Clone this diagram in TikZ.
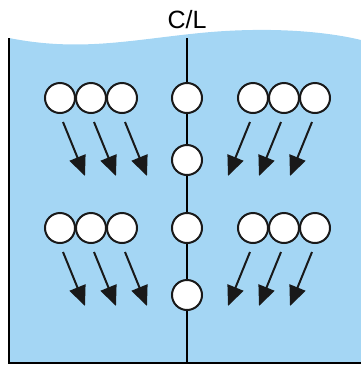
\documentclass[tikz,border=0pt]{standalone}
\usepackage{fontspec}
\setmainfont{Liberation Sans}
\usetikzlibrary{arrows.meta}
\definecolor{water}{RGB}{164,214,244}
\tikzset{
  ball/.style={circle,draw=black!90,line width=2pt,fill=white,minimum size=30pt,inner sep=0pt},
  flow/.style={line width=2pt,black!90,-{Triangle[length=20pt,width=17pt]}}
}
\begin{document}
\begin{tikzpicture}[x=1pt,y=-1pt]
\useasboundingbox (0,0) rectangle (361,365);
% water
\fill[water] (9,38) .. controls (80,52) and (130,40) .. (200,33)
  .. controls (260,27) and (320,30) .. (361,40) -- (361,363) -- (9,363) -- cycle;
\draw[line width=1.5pt] (9,38) -- (9,363) -- (361,363);
\node at (187,20){\fontsize{25pt}{25pt}\selectfont C/L};
\coordinate (cltop) at (187,38);
\coordinate (clbot) at (187,363);
\draw[line width=1.5pt] (cltop) -- (clbot);
% centre line balls
\node[ball] (c1) at (187,98){};
\node[ball] (c2) at (187,160){};
\node[ball] (c3) at (187,228){};
\node[ball] (c4) at (187,295){};
% rows
\foreach \r/\y in {a/98,b/228}{
  \foreach \i/\x in {1/60,2/91,3/122}{
    \node[ball] (l\r\i) at (\x,\y){};
    \coordinate (ls\r\i) at ([shift={(3,24)}]l\r\i.center);
    \coordinate (le\r\i) at ([shift={(25,78)}]l\r\i.center);
    \draw[flow] (ls\r\i) -- (le\r\i);
  }
  \foreach \i/\x in {1/253,2/284,3/315}{
    \node[ball] (r\r\i) at (\x,\y){};
    \coordinate (rs\r\i) at ([shift={(-3,24)}]r\r\i.center);
    \coordinate (re\r\i) at ([shift={(-25,78)}]r\r\i.center);
    \draw[flow] (rs\r\i) -- (re\r\i);
  }
}
\end{tikzpicture}
\end{document}
